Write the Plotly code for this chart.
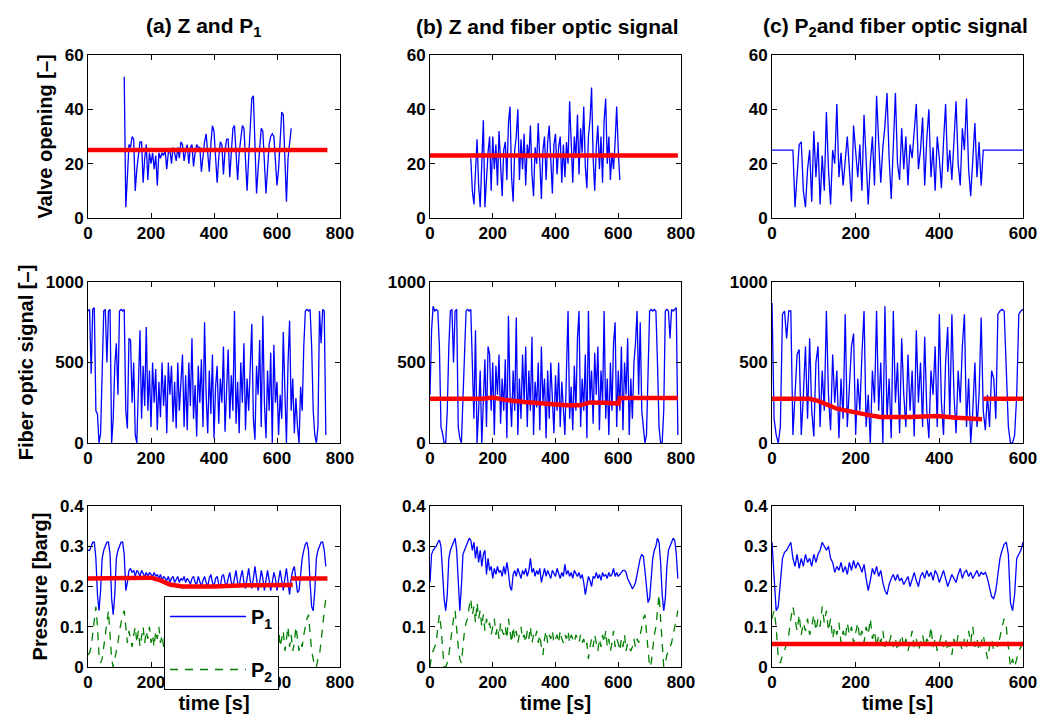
import plotly.graph_objects as go
from plotly.subplots import make_subplots

STEP = 5  # sampling interval [s]

# ---------------- Valve opening Z ----------------
valve_a_t0 = 115
valve_a = [52, 4, 15, 27, 26, 30, 29, 10, 18, 24, 28, 28, 13, 22, 27, 14, 24, 20, 24, 18,
           23, 12, 24, 22, 24, 23, 25, 18, 24, 25, 20, 26, 24, 21, 26, 22, 28, 27, 21, 25,
           27, 20, 26, 27, 19, 24, 27, 26, 26, 17, 24, 28, 31, 25, 17, 27, 34, 32, 20, 13,
           22, 28, 27, 16, 25, 29, 29, 15, 24, 33, 34, 22, 14, 24, 30, 34, 33, 20, 10, 22,
           36, 44, 45, 25, 9, 18, 27, 33, 32, 20, 9, 18, 27, 30, 31, 30, 20, 12, 18, 30,
           39, 38, 20, 6, 22, 28, 33]
valve_a_ref_t = [0, 760]
valve_a_ref = [25, 25]

valve_b_t0 = 130
valve_b = [22, 10, 5, 18, 29, 12, 4, 20, 36, 4, 15, 24, 30, 10, 30, 18, 27, 12, 32, 20,
           8, 25, 28, 14, 35, 41, 15, 6, 25, 30, 40, 14, 29, 18, 31, 12, 27, 22, 34, 16,
           8, 26, 20, 35, 18, 7, 25, 30, 14, 28, 34, 20, 9, 27, 31, 16, 26, 30, 13, 27,
           15, 28, 20, 43, 25, 13, 30, 22, 38, 16, 33, 24, 41, 19, 11, 30, 36, 48, 22, 10,
           26, 34, 18, 30, 13, 36, 44, 20, 30, 14, 24, 18, 28, 41, 25, 14]
valve_b_ref_t = [0, 790]
valve_b_ref = [23, 23]

valve_c_t0 = 0
valve_c = [25, 25, 25, 25, 25, 25, 25, 25, 25, 25,
           25, 4, 15, 27, 28, 10, 4, 18, 25, 6, 32, 15, 28, 5, 23, 10, 39, 18, 5, 25,
           20, 42, 15, 24, 12, 22, 30, 18, 6, 34, 25, 15, 27, 10, 38, 22, 5, 20, 30, 12,
           45, 28, 13, 26, 34, 46, 22, 7, 30, 46, 20, 14, 33, 18, 30, 12, 27, 22, 32, 42,
           18, 25, 37, 12, 29, 40, 15, 26, 10, 30, 22, 11, 28, 42, 17, 25, 14, 30, 43, 20,
           12, 33, 25, 44, 18, 8, 22, 35, 15, 28, 12, 25,
           25, 25, 25, 25, 25, 25, 25, 25, 25, 25, 25, 25, 25, 25, 25, 25, 25, 25, 25]

# ---------------- Fiber optic signal ----------------
fiber_a = [820, 830, 430, 830, 840, 200, 180, 0, 60, 500, 820, 830, 500, 820, 830, 0, 150, 480, 620, 300,
           820, 830, 820, 830, 200, 90, 650, 640, 250, 500, 50, 0, 300, 700, 150, 480, 230, 720, 200, 450,
           100, 500, 250, 460, 80, 380, 160, 500, 230, 420, 60, 500, 300, 480, 130, 380, 90, 500, 200, 350,
           550, 100, 420, 80, 500, 230, 650, 150, 360, 40, 480, 250, 520, 100, 750, 300, 60, 450, 180, 550,
           30, 350, 480, 120, 400, 250, 600, 70, 350, 580, 150, 420, 200, 820, 120, 380, 60, 500, 250, 620,
           80, 400, 200, 540, 740, 150, 20, 480, 300, 640, 100, 790, 250, 30, 450, 200, 560, 0, 610, 250,
           380, 50, 300, 150, 690, 320, 0, 500, 760, 200, 400, 60, 280, 100, 0, 350, 200, 600, 820, 830,
           820, 830, 600, 200, 50, 0, 100, 820, 620, 830, 820, 50]

fiber_b = [300, 700, 850, 820, 830, 820, 600, 100, 60, 0, 0, 200, 600, 820, 830, 500, 820, 830, 100, 30,
           0, 250, 500, 820, 830, 820, 830, 400, 150, 700, 0, 200, 450, 0, 300, 520, 100, 600, 550, 200,
           500, 50, 480, 300, 550, 120, 400, 200, 520, 30, 790, 300, 100, 450, 200, 780, 50, 400, 150, 550,
           250, 600, 100, 450, 200, 660, 50, 380, 220, 500, 80, 600, 250, 400, 30, 450, 150, 500, 280, 60,
           420, 200, 500, 100, 380, 220, 50, 450, 820, 150, 350, 80, 480, 200, 650, 820, 100, 400, 200, 550,
           30, 820, 250, 450, 120, 560, 300, 600, 80, 450, 250, 820, 150, 400, 50, 500, 200, 620, 750, 100,
           450, 200, 600, 80, 500, 300, 650, 50, 400, 150, 500, 620, 820, 300, 750, 200, 100, 0, 50, 400,
           820, 830, 820, 830, 820, 500, 100, 0, 0, 200, 820, 830, 820, 650, 830, 820, 830, 840, 50]
fiber_b_ref_t = [0, 170, 200, 250, 300, 383, 435, 478, 510, 560, 600, 605, 790]
fiber_b_ref = [275, 275, 283, 265, 255, 240, 234, 234, 252, 250, 245, 280, 280]

fiber_c = [870, 150, 50, 0, 100, 800, 820, 650, 820, 820, 50, 300, 550, 580, 50, 300, 600, 150, 650, 200,
           40, 500, 600, 100, 450, 200, 820, 300, 80, 550, 250, 450, 30, 400, 150, 800, 100, 350, 600, 680,
           50, 400, 200, 550, 820, 100, 300, 0, 450, 250, 820, 200, 500, 0, 850, 150, 400, 30, 820, 250,
           500, 60, 650, 300, 100, 550, 200, 450, 40, 700, 250, 500, 100, 660, 200, 30, 450, 300, 600, 100,
           800, 250, 50, 500, 720, 150, 800, 300, 60, 450, 250, 600, 800, 100, 400, 0, 200, 500, 100, 300,
           780, 200, 80, 300, 100, 450, 400, 150, 800, 820, 830, 820, 500, 100, 0, 0, 50, 300, 800, 820, 830]
fiber_c_ref_t = [0, 90, 110, 155, 226, 258, 330, 394, 442, 482, 502]
fiber_c_ref = [275, 275, 262, 213, 176, 161, 162, 168, 157, 155, 147]
fiber_c_ref2_t = [505, 600]
fiber_c_ref2 = [275, 275]

# ---------------- Pressures P1, P2 [barg] ----------------
p1_a = [0.29, 0.29, 0.30, 0.31, 0.31, 0.27, 0.18, 0.14, 0.19, 0.27, 0.29, 0.30, 0.31, 0.31, 0.28, 0.17,
        0.13, 0.18, 0.27, 0.29, 0.30, 0.31, 0.31, 0.28, 0.19, 0.21, 0.24, 0.245, 0.235, 0.24, 0.225, 0.24,
        0.235, 0.225, 0.24, 0.23, 0.225, 0.235, 0.225, 0.235, 0.23, 0.225, 0.235, 0.225, 0.23, 0.22, 0.23,
        0.215, 0.225, 0.22, 0.215, 0.225, 0.21, 0.22, 0.225, 0.21, 0.22, 0.225, 0.21, 0.22, 0.215, 0.225,
        0.21, 0.22, 0.215, 0.205, 0.22, 0.225, 0.21, 0.205, 0.225, 0.215, 0.20, 0.215, 0.225, 0.21, 0.20,
        0.22, 0.23, 0.21, 0.20, 0.22, 0.225, 0.205, 0.20, 0.225, 0.23, 0.21, 0.20, 0.22, 0.235, 0.21, 0.20,
        0.22, 0.24, 0.21, 0.20, 0.225, 0.24, 0.21, 0.195, 0.22, 0.245, 0.215, 0.195, 0.22, 0.25, 0.22,
        0.19, 0.21, 0.24, 0.22, 0.19, 0.215, 0.24, 0.215, 0.19, 0.21, 0.235, 0.22, 0.19, 0.215, 0.24,
        0.215, 0.19, 0.22, 0.245, 0.21, 0.18, 0.22, 0.24, 0.25, 0.22, 0.185, 0.19, 0.24, 0.27, 0.29,
        0.305, 0.31, 0.29, 0.21, 0.15, 0.14, 0.19, 0.27, 0.29, 0.30, 0.31, 0.31, 0.29, 0.25]
p2_a = [0.03, 0.035, 0.05, 0.08, 0.12, 0.15, 0.10, 0.03, 0.01, 0.02, 0.05, 0.08, 0.11, 0.14, 0.08, 0.02,
        0.00, 0.02, 0.04, 0.06, 0.09, 0.11, 0.13, 0.14, 0.10, 0.06, 0.09, 0.07, 0.05, 0.08, 0.10, 0.06,
        0.09, 0.05, 0.08, 0.10, 0.06, 0.09, 0.07, 0.10, 0.06, 0.08, 0.05, 0.09, 0.07, 0.10, 0.06, 0.08,
        0.05, 0.09, 0.07, 0.06, 0.09, 0.05, 0.08, 0.06, 0.09, 0.07, 0.05, 0.08, 0.06, 0.09, 0.07, 0.05,
        0.08, 0.06, 0.10, 0.07, 0.05, 0.08, 0.06, 0.09, 0.07, 0.05, 0.08, 0.06, 0.09, 0.05, 0.07, 0.08,
        0.05, 0.09, 0.06, 0.08, 0.05, 0.07, 0.09, 0.06, 0.08, 0.05, 0.07, 0.09, 0.06, 0.08, 0.05, 0.07,
        0.09, 0.06, 0.08, 0.05, 0.07, 0.09, 0.06, 0.08, 0.05, 0.10, 0.07, 0.05, 0.08, 0.06, 0.09, 0.05,
        0.08, 0.06, 0.10, 0.05, 0.07, 0.09, 0.05, 0.08, 0.06, 0.10, 0.05, 0.07, 0.09, 0.04, 0.07, 0.10,
        0.05, 0.08, 0.04, 0.06, 0.10, 0.07, 0.04, 0.06, 0.05, 0.08, 0.10, 0.12, 0.13, 0.09, 0.04, 0.02,
        0.00, 0.00, 0.02, 0.03, 0.06, 0.10, 0.14, 0.17]
p1_a_ref_t = [0, 200, 230, 260, 300, 400, 500, 650]
p1_a_ref = [0.22, 0.222, 0.215, 0.205, 0.20, 0.20, 0.203, 0.204]
p1_a_ref2_t = [645, 760]
p1_a_ref2 = [0.22, 0.22]

p1_b = [0.21, 0.28, 0.29, 0.295, 0.30, 0.31, 0.315, 0.30, 0.24, 0.17, 0.14, 0.18, 0.27, 0.29, 0.30, 0.31,
        0.32, 0.29, 0.20, 0.14, 0.20, 0.28, 0.29, 0.30, 0.31, 0.32, 0.315, 0.29, 0.31, 0.27, 0.30, 0.26,
        0.29, 0.25, 0.28, 0.29, 0.23, 0.27, 0.24, 0.25, 0.22, 0.245, 0.23, 0.25, 0.235, 0.24, 0.225, 0.25,
        0.23, 0.26, 0.235, 0.20, 0.19, 0.23, 0.24, 0.225, 0.245, 0.23, 0.22, 0.24, 0.23, 0.245, 0.225,
        0.24, 0.27, 0.235, 0.245, 0.225, 0.24, 0.23, 0.245, 0.21, 0.23, 0.245, 0.225, 0.24, 0.23, 0.22,
        0.24, 0.23, 0.225, 0.245, 0.23, 0.22, 0.235, 0.225, 0.255, 0.23, 0.24, 0.225, 0.235, 0.22, 0.24,
        0.23, 0.225, 0.235, 0.22, 0.23, 0.21, 0.18, 0.20, 0.225, 0.215, 0.20, 0.225, 0.22, 0.235, 0.22,
        0.23, 0.215, 0.235, 0.225, 0.23, 0.22, 0.235, 0.225, 0.23, 0.245, 0.225, 0.235, 0.225, 0.23,
        0.235, 0.24, 0.24, 0.235, 0.22, 0.21, 0.20, 0.195, 0.20, 0.21, 0.23, 0.25, 0.27, 0.28, 0.275,
        0.24, 0.19, 0.16, 0.17, 0.23, 0.27, 0.29, 0.30, 0.32, 0.31, 0.26, 0.18, 0.14, 0.17, 0.25, 0.29,
        0.30, 0.31, 0.32, 0.315, 0.28, 0.22]
p2_b = [0.00, 0.03, 0.04, 0.05, 0.06, 0.10, 0.13, 0.10, 0.05, 0.00, 0.00, 0.01, 0.03, 0.06, 0.10, 0.12,
        0.14, 0.09, 0.05, 0.02, 0.01, 0.05, 0.09, 0.11, 0.12, 0.15, 0.17, 0.13, 0.15, 0.11, 0.16, 0.12,
        0.14, 0.10, 0.13, 0.09, 0.12, 0.10, 0.11, 0.08, 0.10, 0.12, 0.08, 0.10, 0.07, 0.11, 0.09, 0.08,
        0.10, 0.07, 0.12, 0.09, 0.06, 0.10, 0.07, 0.09, 0.06, 0.08, 0.10, 0.07, 0.08, 0.06, 0.09, 0.07,
        0.10, 0.06, 0.08, 0.07, 0.09, 0.06, 0.08, 0.05, 0.03, 0.07, 0.09, 0.06, 0.08, 0.07, 0.09, 0.06,
        0.07, 0.08, 0.06, 0.09, 0.07, 0.06, 0.08, 0.07, 0.09, 0.06, 0.08, 0.07, 0.06, 0.08, 0.07, 0.06,
        0.08, 0.06, 0.07, 0.05, 0.06, 0.02, 0.05, 0.07, 0.05, 0.08, 0.06, 0.04, 0.07, 0.05, 0.08, 0.06,
        0.09, 0.05, 0.07, 0.04, 0.06, 0.09, 0.05, 0.07, 0.06, 0.04, 0.07, 0.05, 0.08, 0.04, 0.06, 0.05,
        0.04, 0.05, 0.07, 0.05, 0.07, 0.06, 0.08, 0.10, 0.12, 0.13, 0.08, 0.03, 0.00, 0.01, 0.05, 0.08,
        0.10, 0.14, 0.18, 0.12, 0.05, 0.00, 0.01, 0.03, 0.04, 0.05, 0.06, 0.08, 0.10, 0.12, 0.14]

p1_c = [0.31, 0.22, 0.14, 0.15, 0.21, 0.27, 0.285, 0.29, 0.30, 0.31, 0.27, 0.25, 0.28, 0.245, 0.27, 0.25,
        0.28, 0.26, 0.27, 0.25, 0.28, 0.26, 0.28, 0.29, 0.31, 0.30, 0.29, 0.30, 0.27, 0.26, 0.235, 0.25,
        0.24, 0.26, 0.235, 0.25, 0.23, 0.26, 0.24, 0.265, 0.245, 0.26, 0.25, 0.235, 0.255, 0.22, 0.19,
        0.215, 0.245, 0.23, 0.25, 0.225, 0.24, 0.21, 0.19, 0.18, 0.205, 0.22, 0.23, 0.215, 0.23, 0.215,
        0.22, 0.205, 0.215, 0.225, 0.20, 0.22, 0.235, 0.215, 0.20, 0.225, 0.235, 0.22, 0.24, 0.225, 0.235,
        0.215, 0.24, 0.23, 0.21, 0.225, 0.24, 0.22, 0.20, 0.215, 0.23, 0.22, 0.21, 0.23, 0.245, 0.22,
        0.235, 0.24, 0.225, 0.235, 0.22, 0.23, 0.24, 0.225, 0.235, 0.23, 0.235, 0.22, 0.20, 0.175, 0.17,
        0.19, 0.23, 0.27, 0.29, 0.305, 0.31, 0.28, 0.16, 0.14, 0.18, 0.27, 0.28, 0.29, 0.31]
p2_c = [0.12, 0.14, 0.10, 0.02, 0.01, 0.03, 0.04, 0.06, 0.08, 0.12, 0.15, 0.12, 0.09, 0.13, 0.08, 0.11,
        0.09, 0.12, 0.08, 0.10, 0.13, 0.09, 0.12, 0.10, 0.15, 0.11, 0.14, 0.09, 0.12, 0.07, 0.10, 0.08,
        0.11, 0.06, 0.09, 0.07, 0.11, 0.08, 0.10, 0.06, 0.09, 0.11, 0.07, 0.09, 0.06, 0.10, 0.08, 0.12,
        0.07, 0.09, 0.05, 0.08, 0.06, 0.09, 0.05, 0.07, 0.06, 0.08, 0.05, 0.07, 0.04, 0.06, 0.08, 0.05,
        0.07, 0.04, 0.06, 0.09, 0.05, 0.07, 0.04, 0.06, 0.08, 0.05, 0.07, 0.06, 0.10, 0.05, 0.07, 0.04,
        0.06, 0.08, 0.05, 0.07, 0.04, 0.06, 0.03, 0.07, 0.05, 0.08, 0.06, 0.04, 0.07, 0.05, 0.09, 0.06,
        0.10, 0.05, 0.07, 0.04, 0.06, 0.08, 0.05, 0.02, 0.05, 0.07, 0.04, 0.06, 0.05, 0.08, 0.10, 0.12,
        0.10, 0.05, 0.00, 0.02, 0.00, 0.02, 0.04, 0.05, 0.06]
p2_c_ref_t = [0, 600]
p2_c_ref = [0.057, 0.057]

titles = ["(a) Z and P<sub>1</sub>", "(b) Z and fiber optic signal",
          "(c) P<sub>2</sub>and fiber optic signal"]
ylabels = ["Valve opening [\u2013]", "Fiber optic signal [\u2013]", "Pressure [barg]"]
xlabel = "time [s]"
xmax = [800, 800, 600]
ymax = [60, 1000, 0.4]
xticks = [[0, 200, 400, 600, 800], [0, 200, 400, 600, 800], [0, 200, 400, 600]]
yticks = [[0, 20, 40, 60], [0, 500, 1000], [0, 0.1, 0.2, 0.3, 0.4]]

BLUE = "rgb(0,0,255)"
RED = "rgb(255,0,0)"
GREEN = "rgb(0,128,0)"
FONT = "Liberation Sans, Arial, Helvetica, sans-serif"


def times(t0, vals):
    return [t0 + STEP * i for i in range(len(vals))]


fig = make_subplots(rows=3, cols=3)


def blue(t, v, r, c, name=None, show=False, group=None):
    fig.add_trace(go.Scatter(x=t, y=v, mode="lines", line=dict(color=BLUE, width=1.3),
                             name=name, showlegend=show, legendgroup=group), row=r, col=c)


def red(t, v, r, c):
    fig.add_trace(go.Scatter(x=t, y=v, mode="lines", line=dict(color=RED, width=4.5),
                             showlegend=False), row=r, col=c)


def green(t, v, r, c, name=None, show=False, group=None):
    fig.add_trace(go.Scatter(x=t, y=v, mode="lines",
                             line=dict(color=GREEN, width=1.3, dash="8px,7px"),
                             name=name, showlegend=show, legendgroup=group), row=r, col=c)


# Row 1: valve opening
blue(times(valve_a_t0, valve_a), valve_a, 1, 1)
red(valve_a_ref_t, valve_a_ref, 1, 1)
blue(times(valve_b_t0, valve_b), valve_b, 1, 2)
red(valve_b_ref_t, valve_b_ref, 1, 2)
blue(times(valve_c_t0, valve_c), valve_c, 1, 3)

# Row 2: fiber optic signal
blue(times(0, fiber_a), fiber_a, 2, 1)
blue(times(0, fiber_b), fiber_b, 2, 2)
red(fiber_b_ref_t, fiber_b_ref, 2, 2)
blue(times(0, fiber_c), fiber_c, 2, 3)
red(fiber_c_ref_t, fiber_c_ref, 2, 3)
red(fiber_c_ref2_t, fiber_c_ref2, 2, 3)

# Row 3: pressures
blue(times(0, p1_a), p1_a, 3, 1, name="P<sub>1</sub>", show=True, group="g1")
green(times(0, p2_a), p2_a, 3, 1, name="P<sub>2</sub>", show=True, group="g2")
red(p1_a_ref_t, p1_a_ref, 3, 1)
red(p1_a_ref2_t, p1_a_ref2, 3, 1)
blue(times(0, p1_b), p1_b, 3, 2)
green(times(0, p2_b), p2_b, 3, 2)
blue(times(0, p1_c), p1_c, 3, 3)
green(times(0, p2_c), p2_c, 3, 3)
red(p2_c_ref_t, p2_c_ref, 3, 3)

W, H = 1040, 720
xdom = [(88, 340), (430, 681), (772, 1023)]
ydom = [(55, 218), (282, 443), (506, 667)]

tickfont = dict(family=FONT, size=17, color="black", weight="bold")
labfont = dict(family=FONT, size=20, color="black", weight="bold")

for r in range(3):
    for c in range(3):
        idx = r * 3 + c + 1
        sx = "xaxis" if idx == 1 else f"xaxis{idx}"
        sy = "yaxis" if idx == 1 else f"yaxis{idx}"
        fig.layout[sx].update(
            domain=[xdom[c][0] / W, xdom[c][1] / W], range=[0, xmax[c]], automargin=False,
            tickvals=xticks[c], ticks="inside", ticklen=5, tickwidth=1, tickcolor="black",
            showline=True, linecolor="black", linewidth=1, mirror="ticks",
            showgrid=False, zeroline=False, tickfont=tickfont)
        if r == 2:
            fig.layout[sx].title = dict(text=xlabel, font=labfont, standoff=2)
        fig.layout[sy].update(
            domain=[1 - ydom[r][1] / H, 1 - ydom[r][0] / H], range=[0, ymax[r]],
            automargin=False,
            tickvals=yticks[r], ticks="inside", ticklen=5, tickwidth=1, tickcolor="black",
            showline=True, linecolor="black", linewidth=1, mirror="ticks",
            showgrid=False, zeroline=False, tickfont=tickfont)
        if c == 0:
            fig.layout[sy].title = dict(text=ylabels[r], font=labfont, standoff=6)

title_x = [204, 547, 895]
for c in range(3):
    fig.add_annotation(text=titles[c], x=title_x[c] / W, y=1 - 27 / H,
                       xref="paper", yref="paper",
                       showarrow=False, xanchor="center", yanchor="middle",
                       font=dict(family=FONT, size=21, color="black", weight="bold"))

fig.update_layout(
    width=W, height=H, margin=dict(l=0, r=0, t=0, b=0, autoexpand=False),
    paper_bgcolor="white", plot_bgcolor="white",
    legend=dict(x=164 / W, y=1 - 596 / H, xanchor="left", yanchor="top",
                bgcolor="white", bordercolor="black", borderwidth=1,
                font=dict(family=FONT, size=20, color="black", weight="bold"),
                traceorder="grouped", tracegroupgap=24, itemwidth=76),
)

# Remove the browser's default 8 px body margin so the figure fills the window exactly.
fig.write_html("out.html", config={"displayModeBar": False},
               post_script="document.body.style.margin='0px';")
